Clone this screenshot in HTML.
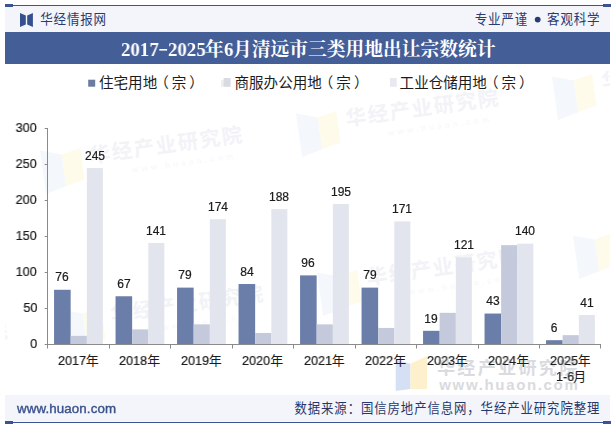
<!DOCTYPE html>
<html lang="zh"><head><meta charset="utf-8"><title>2017-2025年6月清远市三类用地出让宗数统计</title>
<style>
html,body{margin:0;padding:0;background:#fff;}
body{width:615px;height:427px;position:relative;overflow:hidden;font-family:"Liberation Sans",sans-serif;}
.t{position:absolute;white-space:nowrap;will-change:transform;-webkit-text-stroke:0.22px currentColor;}
.h{position:absolute;white-space:nowrap;color:transparent;overflow:hidden;}
</style></head><body>
<svg width="615" height="427" viewBox="0 0 615 427" style="position:absolute;left:0;top:0"><defs><clipPath id="wmc"><rect x="5" y="64" width="605" height="280.5"/></clipPath><clipPath id="wmd"><rect x="0" y="92" width="615" height="302"/></clipPath></defs><g clip-path="url(#wmc)"><g transform="translate(40.0 150.5) rotate(-8)"><path d="M0 0 L21 7 L21 39 L0 44 Z" fill="#f4f7fc"/><path d="M21 7 L40 3 L40 35 L21 39 Z" fill="#fefbea"/><text x="48.6" y="19.4" font-family="Liberation Sans, Noto Sans CJK SC, sans-serif" font-weight="bold" font-size="20.5" letter-spacing="1.7" fill="#f2f3f7">华经产业研究院</text><text transform="translate(88.5 35) scale(1 1)" font-family="Liberation Sans, sans-serif" font-weight="bold" font-size="8" letter-spacing="3.2" fill="#f9f9fb">www.huaon.com</text></g>
<g transform="translate(296.0 113.5) rotate(-8)"><path d="M0 0 L21 7 L21 39 L0 44 Z" fill="#f4f7fc"/><path d="M21 7 L40 3 L40 35 L21 39 Z" fill="#fefbea"/><text x="48.6" y="19.4" font-family="Liberation Sans, Noto Sans CJK SC, sans-serif" font-weight="bold" font-size="20.5" letter-spacing="1.7" fill="#f2f3f7">华经产业研究院</text><text transform="translate(88.5 35) scale(1 1)" font-family="Liberation Sans, sans-serif" font-weight="bold" font-size="8" letter-spacing="3.2" fill="#f9f9fb">www.huaon.com</text></g>
<g transform="translate(552.0 76.5) rotate(-8)"><path d="M0 0 L21 7 L21 39 L0 44 Z" fill="#f4f7fc"/><path d="M21 7 L40 3 L40 35 L21 39 Z" fill="#fefbea"/><text x="48.6" y="19.4" font-family="Liberation Sans, Noto Sans CJK SC, sans-serif" font-weight="bold" font-size="20.5" letter-spacing="1.7" fill="#f2f3f7">华经产业研究院</text><text transform="translate(88.5 35) scale(1 1)" font-family="Liberation Sans, sans-serif" font-weight="bold" font-size="8" letter-spacing="3.2" fill="#f9f9fb">www.huaon.com</text></g>
<g transform="translate(61.0 309.5) rotate(-8)"><path d="M0 0 L21 7 L21 39 L0 44 Z" fill="#f4f7fc"/><path d="M21 7 L40 3 L40 35 L21 39 Z" fill="#fefbea"/><text x="48.6" y="19.4" font-family="Liberation Sans, Noto Sans CJK SC, sans-serif" font-weight="bold" font-size="20.5" letter-spacing="1.7" fill="#f2f3f7">华经产业研究院</text><text transform="translate(88.5 35) scale(1 1)" font-family="Liberation Sans, sans-serif" font-weight="bold" font-size="8" letter-spacing="3.2" fill="#f9f9fb">www.huaon.com</text></g>
<g transform="translate(317.0 272.5) rotate(-8)"><path d="M0 0 L21 7 L21 39 L0 44 Z" fill="#f4f7fc"/><path d="M21 7 L40 3 L40 35 L21 39 Z" fill="#fefbea"/><text x="48.6" y="19.4" font-family="Liberation Sans, Noto Sans CJK SC, sans-serif" font-weight="bold" font-size="20.5" letter-spacing="1.7" fill="#f2f3f7">华经产业研究院</text><text transform="translate(88.5 35) scale(1 1)" font-family="Liberation Sans, sans-serif" font-weight="bold" font-size="8" letter-spacing="3.2" fill="#f9f9fb">www.huaon.com</text></g>
<g transform="translate(573.0 235.5) rotate(-8)"><path d="M0 0 L21 7 L21 39 L0 44 Z" fill="#f4f7fc"/><path d="M21 7 L40 3 L40 35 L21 39 Z" fill="#fefbea"/><text x="48.6" y="19.4" font-family="Liberation Sans, Noto Sans CJK SC, sans-serif" font-weight="bold" font-size="20.5" letter-spacing="1.7" fill="#f2f3f7">华经产业研究院</text><text transform="translate(88.5 35) scale(1 1)" font-family="Liberation Sans, sans-serif" font-weight="bold" font-size="8" letter-spacing="3.2" fill="#f9f9fb">www.huaon.com</text></g>
<g transform="translate(-195.0 346.5) rotate(-8)"><path d="M0 0 L21 7 L21 39 L0 44 Z" fill="#f4f7fc"/><path d="M21 7 L40 3 L40 35 L21 39 Z" fill="#fefbea"/><text x="48.6" y="19.4" font-family="Liberation Sans, Noto Sans CJK SC, sans-serif" font-weight="bold" font-size="20.5" letter-spacing="1.7" fill="#f2f3f7">华经产业研究院</text><text transform="translate(88.5 35) scale(1 1)" font-family="Liberation Sans, sans-serif" font-weight="bold" font-size="8" letter-spacing="3.2" fill="#f9f9fb">www.huaon.com</text></g></g><g clip-path="url(#wmd)"><g transform="translate(395.7 356.0) rotate(0)"><path d="M0 3.8 L14.7 7.7 L14.7 33 L0 35 Z" fill="#d5e0f4"/><path d="M14.7 7.7 L31.3 0 L31.3 33 L14.7 33 Z" fill="#fdf1cd"/><text transform="translate(41.2 18.2) scale(1.0798 1)" font-family="Liberation Sans, Noto Sans CJK SC, sans-serif" font-weight="bold" font-size="16.8" letter-spacing="2.09" fill="#dadbdf">华经产业研究院</text><text transform="translate(43.6 34.0) scale(1.0 1)" font-family="Liberation Sans, sans-serif" font-weight="bold" font-size="15" letter-spacing="1.65" fill="#d9dade">www.huaon.com</text></g></g><rect x="5.00" y="6.00" width="605.00" height="26.00" fill="#f3f5fa"/>
<rect x="5.00" y="32.00" width="605.00" height="32.00" fill="#445e97"/>
<rect x="5.00" y="395.00" width="605.00" height="26.50" fill="#f3f5fa"/>
<rect x="5.00" y="5.00" width="606.00" height="1.00" fill="#3b5390"/>
<rect x="5.00" y="4.00" width="8.00" height="3.00" fill="#3b5390"/>
<rect x="603.00" y="4.00" width="8.00" height="3.00" fill="#3b5390"/>
<rect x="5.00" y="422.00" width="606.00" height="1.00" fill="#3b5390"/>
<rect x="5.00" y="421.00" width="8.00" height="3.00" fill="#3b5390"/>
<rect x="603.00" y="421.00" width="8.00" height="3.00" fill="#3b5390"/>
<path d="M20 12.9 L25.8 15.4 L25.8 24.5 L20 26.9 Z M32.9 12.9 L27.2 15.4 L27.2 24.5 L32.9 26.9 Z" fill="#34508f"/>
<circle cx="537.7" cy="19.6" r="2.9" fill="#283c74"/>
<rect x="159.32" y="49.00" width="7.80" height="1.60" fill="#fff"/>
<rect x="88.20" y="79.70" width="7.00" height="7.00" fill="#6c7c9f"/>
<rect x="221.20" y="80.20" width="2.60" height="6.60" fill="#eaebf3"/>
<rect x="223.60" y="78.00" width="7.00" height="8.80" fill="#d9dbe3"/>
<rect x="390.00" y="78.00" width="6.70" height="8.80" fill="#e8e9f0"/>
<rect x="54.05" y="289.78" width="16.60" height="55.22" fill="#6b7ea9"/>
<rect x="70.65" y="335.86" width="16.20" height="9.14" fill="#c4cadb"/>
<rect x="86.85" y="168.10" width="16.00" height="176.90" fill="#e2e4ee"/>
<rect x="115.55" y="296.26" width="16.60" height="48.74" fill="#6b7ea9"/>
<rect x="132.15" y="329.38" width="16.20" height="15.62" fill="#c4cadb"/>
<rect x="148.35" y="242.98" width="16.00" height="102.02" fill="#e2e4ee"/>
<rect x="177.05" y="287.62" width="16.60" height="57.38" fill="#6b7ea9"/>
<rect x="193.65" y="324.34" width="16.20" height="20.66" fill="#c4cadb"/>
<rect x="209.85" y="219.22" width="16.00" height="125.78" fill="#e2e4ee"/>
<rect x="238.55" y="284.02" width="16.60" height="60.98" fill="#6b7ea9"/>
<rect x="255.15" y="332.98" width="16.20" height="12.02" fill="#c4cadb"/>
<rect x="271.35" y="209.14" width="16.00" height="135.86" fill="#e2e4ee"/>
<rect x="300.05" y="275.38" width="16.60" height="69.62" fill="#6b7ea9"/>
<rect x="316.65" y="324.34" width="16.20" height="20.66" fill="#c4cadb"/>
<rect x="332.85" y="204.10" width="16.00" height="140.90" fill="#e2e4ee"/>
<rect x="361.55" y="287.62" width="16.60" height="57.38" fill="#6b7ea9"/>
<rect x="378.15" y="327.94" width="16.20" height="17.06" fill="#c4cadb"/>
<rect x="394.35" y="221.38" width="16.00" height="123.62" fill="#e2e4ee"/>
<rect x="423.05" y="330.82" width="16.60" height="14.18" fill="#6b7ea9"/>
<rect x="439.65" y="312.82" width="16.20" height="32.18" fill="#c4cadb"/>
<rect x="455.85" y="257.38" width="16.00" height="87.62" fill="#e2e4ee"/>
<rect x="484.55" y="313.54" width="16.60" height="31.46" fill="#6b7ea9"/>
<rect x="501.15" y="245.14" width="16.20" height="99.86" fill="#c4cadb"/>
<rect x="517.35" y="243.70" width="16.00" height="101.30" fill="#e2e4ee"/>
<rect x="546.05" y="340.18" width="16.60" height="4.82" fill="#6b7ea9"/>
<rect x="562.65" y="335.14" width="16.20" height="9.86" fill="#c4cadb"/>
<rect x="578.85" y="314.98" width="16.00" height="30.02" fill="#e2e4ee"/>
<rect x="47.00" y="128.00" width="1.00" height="217.00" fill="#8a8a8a"/>
<rect x="47.00" y="344.00" width="554.00" height="1.00" fill="#8a8a8a"/>
<rect x="44.70" y="344.00" width="2.50" height="1.00" fill="#8a8a8a"/>
<rect x="44.70" y="308.00" width="2.50" height="1.00" fill="#8a8a8a"/>
<rect x="44.70" y="272.00" width="2.50" height="1.00" fill="#8a8a8a"/>
<rect x="44.70" y="236.00" width="2.50" height="1.00" fill="#8a8a8a"/>
<rect x="44.70" y="200.00" width="2.50" height="1.00" fill="#8a8a8a"/>
<rect x="44.70" y="164.00" width="2.50" height="1.00" fill="#8a8a8a"/>
<rect x="44.70" y="128.00" width="2.50" height="1.00" fill="#8a8a8a"/>
<rect x="47.00" y="344.00" width="1.00" height="4.50" fill="#8a8a8a"/>
<rect x="109.00" y="344.00" width="1.00" height="4.50" fill="#8a8a8a"/>
<rect x="170.00" y="344.00" width="1.00" height="4.50" fill="#8a8a8a"/>
<rect x="232.00" y="344.00" width="1.00" height="4.50" fill="#8a8a8a"/>
<rect x="293.00" y="344.00" width="1.00" height="4.50" fill="#8a8a8a"/>
<rect x="355.00" y="344.00" width="1.00" height="4.50" fill="#8a8a8a"/>
<rect x="416.00" y="344.00" width="1.00" height="4.50" fill="#8a8a8a"/>
<rect x="478.00" y="344.00" width="1.00" height="4.50" fill="#8a8a8a"/>
<rect x="539.00" y="344.00" width="1.00" height="4.50" fill="#8a8a8a"/>
<rect x="600.00" y="344.00" width="1.00" height="4.50" fill="#8a8a8a"/>
<text transform="translate(40.30 24.20) scale(0.94 1)" font-family="Liberation Sans, Noto Sans CJK SC, sans-serif" font-size="13.33" letter-spacing="0.85" fill="#283c74">华经情报网</text>
<text transform="translate(474.70 24.20) scale(0.94 1)" font-family="Liberation Sans, Noto Sans CJK SC, sans-serif" font-size="13.33" letter-spacing="0.85" fill="#283c74">专业严谨</text>
<text transform="translate(547.10 24.20) scale(0.94 1)" font-family="Liberation Sans, Noto Sans CJK SC, sans-serif" font-size="13.33" letter-spacing="0.85" fill="#283c74">客观科学</text>
<text x="205.00" y="56.00" font-family="Liberation Serif, Noto Serif CJK SC, serif" font-weight="bold" font-size="18.75" fill="#fff">年</text>
<text x="233.12" y="56.00" font-family="Liberation Serif, Noto Serif CJK SC, serif" font-weight="bold" font-size="18.75" fill="#fff">月清远市三类用地出让宗数统计</text>
<text x="99.00" y="88.20" font-family="Liberation Sans, Noto Sans CJK SC, sans-serif" font-size="14.55" fill="#1c1c1c">住宅用地<tspan dx="-3">（</tspan><tspan dx="3">宗</tspan><tspan dx="3">）</tspan></text>
<text x="234.50" y="88.20" font-family="Liberation Sans, Noto Sans CJK SC, sans-serif" font-size="14.55" fill="#1c1c1c">商服办公用地<tspan dx="-3">（</tspan><tspan dx="3">宗</tspan><tspan dx="3">）</tspan></text>
<text x="399.60" y="88.20" font-family="Liberation Sans, Noto Sans CJK SC, sans-serif" font-size="14.55" fill="#1c1c1c">工业仓储用地<tspan dx="-3">（</tspan><tspan dx="3">宗</tspan><tspan dx="3">）</tspan></text>
<text x="85.87" y="364.90" font-family="Liberation Sans, Noto Sans CJK SC, sans-serif" font-size="13" fill="#1c1c1c">年</text>
<text x="147.37" y="364.90" font-family="Liberation Sans, Noto Sans CJK SC, sans-serif" font-size="13" fill="#1c1c1c">年</text>
<text x="208.87" y="364.90" font-family="Liberation Sans, Noto Sans CJK SC, sans-serif" font-size="13" fill="#1c1c1c">年</text>
<text x="270.37" y="364.90" font-family="Liberation Sans, Noto Sans CJK SC, sans-serif" font-size="13" fill="#1c1c1c">年</text>
<text x="331.87" y="364.90" font-family="Liberation Sans, Noto Sans CJK SC, sans-serif" font-size="13" fill="#1c1c1c">年</text>
<text x="393.37" y="364.90" font-family="Liberation Sans, Noto Sans CJK SC, sans-serif" font-size="13" fill="#1c1c1c">年</text>
<text x="454.87" y="364.90" font-family="Liberation Sans, Noto Sans CJK SC, sans-serif" font-size="13" fill="#1c1c1c">年</text>
<text x="516.37" y="364.90" font-family="Liberation Sans, Noto Sans CJK SC, sans-serif" font-size="13" fill="#1c1c1c">年</text>
<text x="577.87" y="364.90" font-family="Liberation Sans, Noto Sans CJK SC, sans-serif" font-size="13" fill="#1c1c1c">年</text>
<text x="573.36" y="380.90" font-family="Liberation Sans, Noto Sans CJK SC, sans-serif" font-size="13" fill="#1c1c1c">月</text>
<text transform="translate(294.47 413.20) scale(0.93 1)" font-family="Liberation Sans, Noto Sans CJK SC, sans-serif" font-size="13.33" letter-spacing="0.98" fill="#27376b">数据来源：国信房地产信息网，华经产业研究院整理</text></svg>
<div class="t" style="left:120.60px;top:39.00px;font-size:19.6px;line-height:21px;color:#fff;font-weight:bold;font-family:'Liberation Serif',serif;-webkit-text-stroke:0;transform:scaleX(0.9622448979591836);transform-origin:left center;">2017</div>
<div class="t" style="left:167.75px;top:39.00px;font-size:19.6px;line-height:21px;color:#fff;font-weight:bold;font-family:'Liberation Serif',serif;-webkit-text-stroke:0;transform:scaleX(0.9622448979591836);transform-origin:left center;">2025</div>
<div class="t" style="left:224.05px;top:39.00px;font-size:19.6px;line-height:21px;color:#fff;font-weight:bold;font-family:'Liberation Serif',serif;-webkit-text-stroke:0;transform:scaleX(0.9622448979591836);transform-origin:left center;">6</div>
<div class="t" style="left:-87.65px;width:300px;text-align:center;top:270.48px;font-size:12.0px;line-height:14px;color:#1c1c1c;">76</div>
<div class="t" style="left:-55.15px;width:300px;text-align:center;top:148.80px;font-size:12.0px;line-height:14px;color:#1c1c1c;">245</div>
<div class="t" style="left:57.62px;top:352.80px;font-size:13.0px;line-height:15px;color:#1c1c1c;transform:scaleX(0.97);transform-origin:left center;">2017</div>
<div class="t" style="left:-26.15px;width:300px;text-align:center;top:276.96px;font-size:12.0px;line-height:14px;color:#1c1c1c;">67</div>
<div class="t" style="left:6.35px;width:300px;text-align:center;top:223.68px;font-size:12.0px;line-height:14px;color:#1c1c1c;">141</div>
<div class="t" style="left:119.12px;top:352.80px;font-size:13.0px;line-height:15px;color:#1c1c1c;transform:scaleX(0.97);transform-origin:left center;">2018</div>
<div class="t" style="left:35.35px;width:300px;text-align:center;top:268.32px;font-size:12.0px;line-height:14px;color:#1c1c1c;">79</div>
<div class="t" style="left:67.85px;width:300px;text-align:center;top:199.92px;font-size:12.0px;line-height:14px;color:#1c1c1c;">174</div>
<div class="t" style="left:180.62px;top:352.80px;font-size:13.0px;line-height:15px;color:#1c1c1c;transform:scaleX(0.97);transform-origin:left center;">2019</div>
<div class="t" style="left:96.85px;width:300px;text-align:center;top:264.72px;font-size:12.0px;line-height:14px;color:#1c1c1c;">84</div>
<div class="t" style="left:129.35px;width:300px;text-align:center;top:189.84px;font-size:12.0px;line-height:14px;color:#1c1c1c;">188</div>
<div class="t" style="left:242.12px;top:352.80px;font-size:13.0px;line-height:15px;color:#1c1c1c;transform:scaleX(0.97);transform-origin:left center;">2020</div>
<div class="t" style="left:158.35px;width:300px;text-align:center;top:256.08px;font-size:12.0px;line-height:14px;color:#1c1c1c;">96</div>
<div class="t" style="left:190.85px;width:300px;text-align:center;top:184.80px;font-size:12.0px;line-height:14px;color:#1c1c1c;">195</div>
<div class="t" style="left:303.62px;top:352.80px;font-size:13.0px;line-height:15px;color:#1c1c1c;transform:scaleX(0.97);transform-origin:left center;">2021</div>
<div class="t" style="left:219.85px;width:300px;text-align:center;top:268.32px;font-size:12.0px;line-height:14px;color:#1c1c1c;">79</div>
<div class="t" style="left:252.35px;width:300px;text-align:center;top:202.08px;font-size:12.0px;line-height:14px;color:#1c1c1c;">171</div>
<div class="t" style="left:365.12px;top:352.80px;font-size:13.0px;line-height:15px;color:#1c1c1c;transform:scaleX(0.97);transform-origin:left center;">2022</div>
<div class="t" style="left:281.35px;width:300px;text-align:center;top:311.52px;font-size:12.0px;line-height:14px;color:#1c1c1c;">19</div>
<div class="t" style="left:313.85px;width:300px;text-align:center;top:238.08px;font-size:12.0px;line-height:14px;color:#1c1c1c;">121</div>
<div class="t" style="left:426.62px;top:352.80px;font-size:13.0px;line-height:15px;color:#1c1c1c;transform:scaleX(0.97);transform-origin:left center;">2023</div>
<div class="t" style="left:342.85px;width:300px;text-align:center;top:294.24px;font-size:12.0px;line-height:14px;color:#1c1c1c;">43</div>
<div class="t" style="left:375.35px;width:300px;text-align:center;top:224.40px;font-size:12.0px;line-height:14px;color:#1c1c1c;">140</div>
<div class="t" style="left:488.12px;top:352.80px;font-size:13.0px;line-height:15px;color:#1c1c1c;transform:scaleX(0.97);transform-origin:left center;">2024</div>
<div class="t" style="left:404.35px;width:300px;text-align:center;top:320.88px;font-size:12.0px;line-height:14px;color:#1c1c1c;">6</div>
<div class="t" style="left:436.85px;width:300px;text-align:center;top:295.68px;font-size:12.0px;line-height:14px;color:#1c1c1c;">41</div>
<div class="t" style="left:549.62px;top:352.80px;font-size:13.0px;line-height:15px;color:#1c1c1c;transform:scaleX(0.97);transform-origin:left center;">2025</div>
<div class="t" style="left:555.83px;top:368.80px;font-size:13.0px;line-height:15px;color:#1c1c1c;transform:scaleX(0.97);transform-origin:left center;">1-6</div>
<div class="t" style="right:577.90px;top:335.50px;font-size:13.0px;line-height:15px;color:#1c1c1c;transform:scaleX(0.97);transform-origin:right center;">0</div>
<div class="t" style="right:577.90px;top:299.50px;font-size:13.0px;line-height:15px;color:#1c1c1c;transform:scaleX(0.97);transform-origin:right center;">50</div>
<div class="t" style="right:577.90px;top:263.50px;font-size:13.0px;line-height:15px;color:#1c1c1c;transform:scaleX(0.97);transform-origin:right center;">100</div>
<div class="t" style="right:577.90px;top:227.50px;font-size:13.0px;line-height:15px;color:#1c1c1c;transform:scaleX(0.97);transform-origin:right center;">150</div>
<div class="t" style="right:577.90px;top:191.50px;font-size:13.0px;line-height:15px;color:#1c1c1c;transform:scaleX(0.97);transform-origin:right center;">200</div>
<div class="t" style="right:577.90px;top:155.50px;font-size:13.0px;line-height:15px;color:#1c1c1c;transform:scaleX(0.97);transform-origin:right center;">250</div>
<div class="t" style="right:577.90px;top:119.50px;font-size:13.0px;line-height:15px;color:#1c1c1c;transform:scaleX(0.97);transform-origin:right center;">300</div>
<div class="t" style="left:16.80px;top:400.60px;font-size:13.3px;line-height:15px;color:#3a518b;letter-spacing:0.12px;-webkit-text-stroke:0.4px currentColor;">www.huaon.com</div>
<div class="h" style="left:39.9px;top:12.5px;font-size:13.33px;line-height:13.33px;letter-spacing:0.00px">华经情报网</div>
<div class="h" style="left:474.3px;top:12.5px;font-size:13.33px;line-height:13.33px;letter-spacing:0.00px">专业严谨</div>
<div class="h" style="left:546.7px;top:12.5px;font-size:13.33px;line-height:13.33px;letter-spacing:0.00px">客观科学</div>
<div class="h" style="left:205.0px;top:39.5px;font-size:18.75px;line-height:18.75px;letter-spacing:0.00px">年</div>
<div class="h" style="left:233.1px;top:39.5px;font-size:18.75px;line-height:18.75px;letter-spacing:0.00px">月清远市三类用地出让宗数统计</div>
<div class="h" style="left:99.0px;top:75.4px;font-size:14.55px;line-height:14.55px;letter-spacing:0.00px">住宅用地（宗）</div>
<div class="h" style="left:234.5px;top:75.4px;font-size:14.55px;line-height:14.55px;letter-spacing:0.00px">商服办公用地（宗）</div>
<div class="h" style="left:399.6px;top:75.4px;font-size:14.55px;line-height:14.55px;letter-spacing:0.00px">工业仓储用地（宗）</div>
<div class="h" style="left:85.9px;top:353.5px;font-size:13.0px;line-height:13.0px;letter-spacing:0.00px">年</div>
<div class="h" style="left:147.4px;top:353.5px;font-size:13.0px;line-height:13.0px;letter-spacing:0.00px">年</div>
<div class="h" style="left:208.9px;top:353.5px;font-size:13.0px;line-height:13.0px;letter-spacing:0.00px">年</div>
<div class="h" style="left:270.4px;top:353.5px;font-size:13.0px;line-height:13.0px;letter-spacing:0.00px">年</div>
<div class="h" style="left:331.9px;top:353.5px;font-size:13.0px;line-height:13.0px;letter-spacing:0.00px">年</div>
<div class="h" style="left:393.4px;top:353.5px;font-size:13.0px;line-height:13.0px;letter-spacing:0.00px">年</div>
<div class="h" style="left:454.9px;top:353.5px;font-size:13.0px;line-height:13.0px;letter-spacing:0.00px">年</div>
<div class="h" style="left:516.4px;top:353.5px;font-size:13.0px;line-height:13.0px;letter-spacing:0.00px">年</div>
<div class="h" style="left:577.9px;top:353.5px;font-size:13.0px;line-height:13.0px;letter-spacing:0.00px">年</div>
<div class="h" style="left:573.4px;top:369.5px;font-size:13.0px;line-height:13.0px;letter-spacing:0.00px">月</div>
<div class="h" style="left:294.0px;top:401.5px;font-size:13.33px;line-height:13.33px;letter-spacing:-0.02px">数据来源：国信房地产信息网，华经产业研究院整理</div>
</body></html>
